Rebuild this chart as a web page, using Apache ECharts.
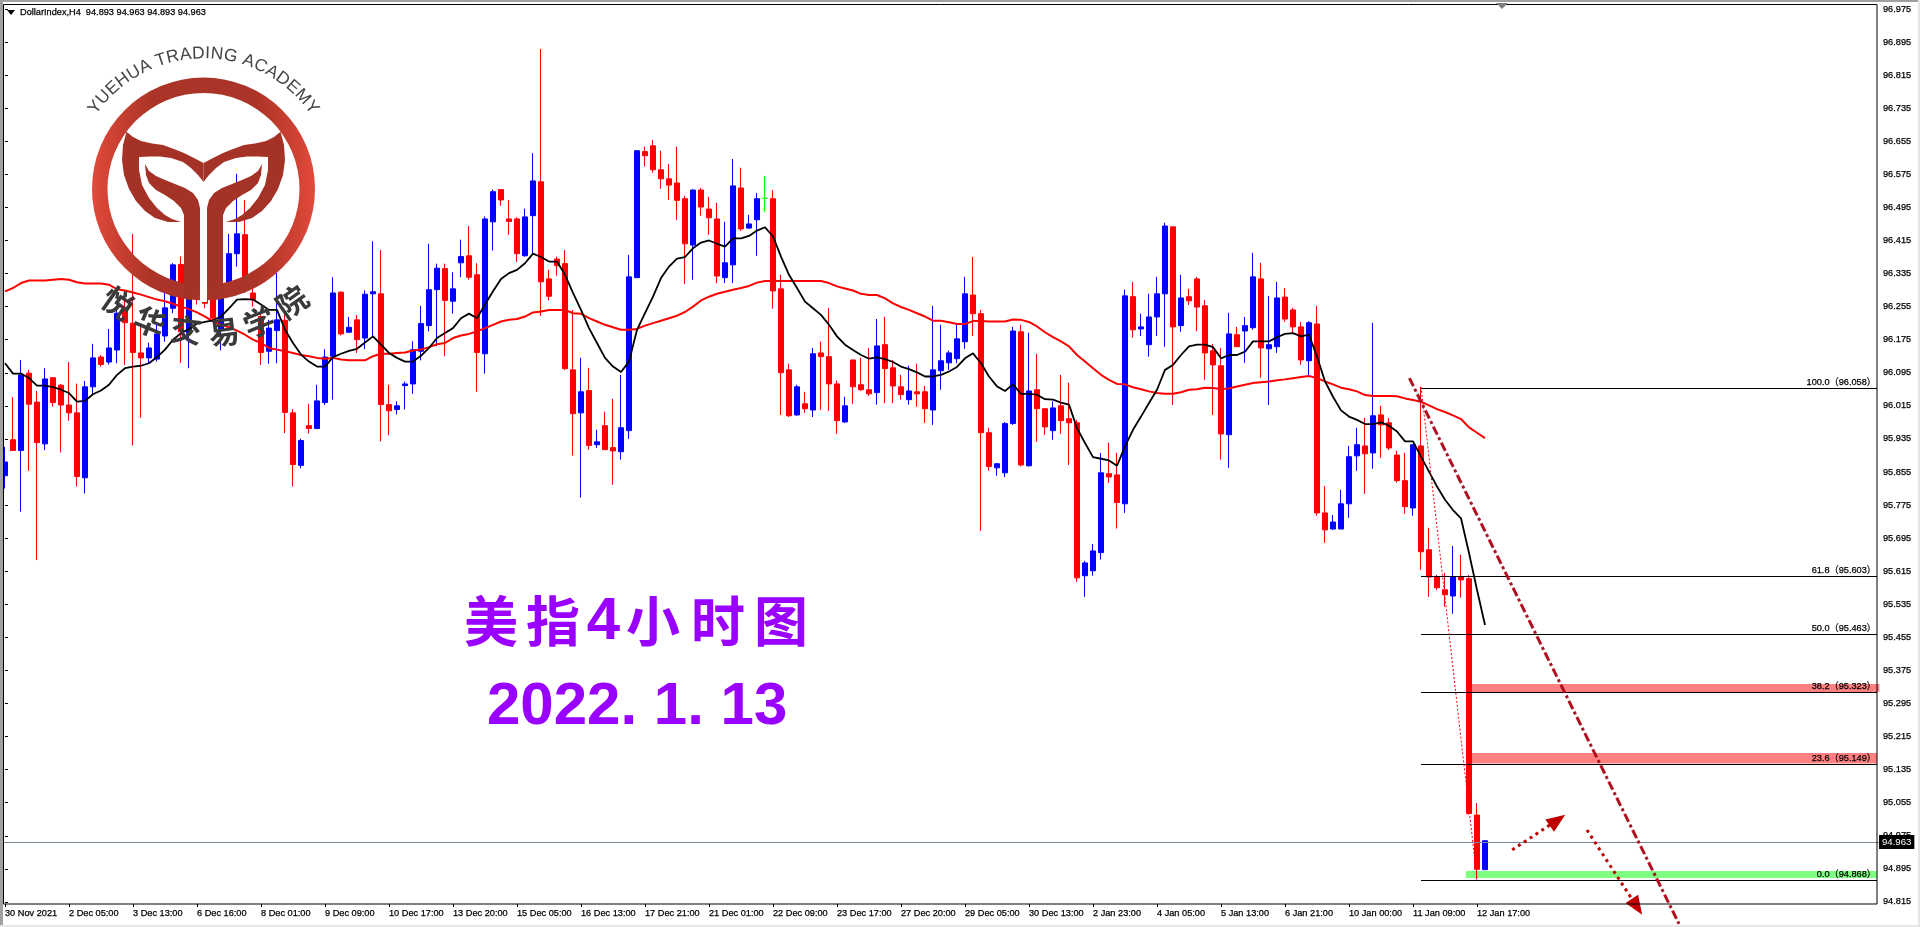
<!DOCTYPE html>
<html><head><meta charset="utf-8"><style>html,body{margin:0;padding:0;background:#fff}#c{width:1920px;height:927px}</style>
<script src="https://cdn.jsdelivr.net/npm/echarts@6/dist/echarts.min.js"></script></head><body><div id="c"></div>
<script>
const tickLabels=['30 Nov 2021','2 Dec 05:00','3 Dec 13:00','6 Dec 16:00','8 Dec 01:00','9 Dec 09:00','10 Dec 17:00','13 Dec 20:00','15 Dec 05:00','16 Dec 13:00','17 Dec 21:00','21 Dec 01:00','22 Dec 09:00','23 Dec 17:00','27 Dec 20:00','29 Dec 05:00','30 Dec 13:00','2 Jan 23:00','4 Jan 05:00','5 Jan 13:00','6 Jan 21:00','10 Jan 00:00','11 Jan 09:00','12 Jan 17:00'];
const priceTicks=[94.815,94.895,94.975,95.055,95.135,95.215,95.295,95.375,95.455,95.535,95.615,95.695,95.775,95.855,95.935,96.015,96.095,96.175,96.255,96.335,96.415,96.495,96.575,96.655,96.735,96.815,96.895,96.975];
const opens=[95.846,95.933,95.907,96.094,96.024,95.923,96.083,96.065,96.017,95.998,
95.841,96.061,96.133,96.121,96.150,96.247,96.215,96.143,96.131,96.128,
96.184,96.251,96.357,96.190,96.319,96.315,96.303,96.199,96.312,96.383,
96.429,96.288,96.231,96.147,96.197,96.222,95.998,95.871,95.967,95.960,
96.023,96.135,96.290,96.193,96.223,96.179,96.286,96.286,96.018,96.006,
96.064,96.068,96.147,96.209,96.296,96.347,96.268,96.361,96.378,96.332,
96.141,96.460,96.538,96.467,96.467,96.378,96.475,96.557,96.322,96.370,
96.359,96.102,95.998,96.052,95.921,95.967,95.914,95.904,95.955,96.325,
96.630,96.644,96.586,96.564,96.554,96.516,96.404,96.537,96.491,96.467,
96.325,96.356,96.542,96.445,96.465,96.517,96.516,96.298,96.102,95.993,
96.020,96.005,96.143,96.134,96.068,95.976,96.126,96.066,96.054,96.047,
96.163,96.107,96.061,96.030,96.049,96.049,96.005,96.100,96.119,96.129,
96.170,96.283,96.238,95.950,95.865,95.853,95.972,96.194,95.870,96.054,
96.008,95.955,96.015,95.984,95.974,95.604,95.616,95.660,95.851,95.848,
95.778,96.279,96.201,96.163,96.230,96.286,96.448,96.209,96.279,96.322,
96.257,96.148,96.112,95.945,96.187,96.196,96.204,96.322,96.153,96.158,
96.278,96.247,96.206,96.124,96.213,95.756,95.717,95.717,95.778,95.894,
95.918,95.901,95.993,95.974,95.896,95.834,95.768,95.918,95.667,95.601,
95.570,95.555,95.601,95.597,95.025,94.893];
const closes=[95.879,95.907,96.090,96.019,95.926,96.080,96.023,96.017,95.998,95.844,
96.061,96.131,96.115,96.155,96.239,96.216,96.144,96.131,96.155,96.189,
96.252,96.356,96.194,96.319,96.287,96.263,96.227,96.296,96.383,96.431,
96.324,96.272,96.144,96.203,96.223,95.999,95.873,95.931,95.960,96.027,
96.133,96.288,96.189,96.205,96.175,96.285,96.291,96.018,96.003,96.015,
96.068,96.151,96.214,96.296,96.348,96.270,96.298,96.376,96.326,96.144,
96.467,96.533,96.513,96.461,96.383,96.472,96.559,96.315,96.280,96.354,
96.105,95.996,96.049,95.919,95.928,95.909,95.906,95.962,96.327,96.632,
96.620,96.586,96.564,96.549,96.512,96.407,96.537,96.496,96.470,96.329,
96.361,96.547,96.443,96.455,96.516,96.517,96.293,96.095,95.991,96.061,
96.008,96.141,96.134,96.068,95.979,96.015,96.061,96.054,96.044,96.160,
96.105,96.063,96.042,96.051,96.044,96.008,96.102,96.124,96.143,96.177,
96.286,96.238,95.950,95.868,95.875,95.972,96.196,95.872,96.051,96.008,
95.964,96.010,95.979,95.974,95.599,95.635,95.664,95.853,95.843,95.781,
96.281,96.199,96.206,96.230,96.286,96.450,96.206,96.276,96.269,96.254,
96.143,96.114,95.947,96.189,96.158,96.209,96.327,96.155,96.163,96.276,
96.225,96.206,96.126,96.216,95.756,95.715,95.734,95.778,95.892,95.921,
95.899,95.991,95.969,95.913,95.834,95.771,95.921,95.662,95.601,95.575,
95.558,95.601,95.594,95.029,94.894,94.963];
const lows=[95.815,95.906,95.759,95.858,95.642,95.908,96.013,95.902,95.979,95.820,
95.803,96.041,96.110,96.115,96.118,96.114,95.919,95.986,96.119,96.122,
96.170,96.239,96.119,96.106,96.260,96.251,96.223,96.149,96.288,96.352,
96.288,96.255,96.114,96.117,96.118,95.949,95.820,95.864,95.948,95.960,
96.017,96.030,96.185,96.193,96.143,96.152,96.183,95.929,95.944,95.994,
96.006,96.044,96.125,96.195,96.159,96.135,96.238,96.326,96.320,96.049,
96.093,96.391,96.499,96.429,96.363,96.376,96.384,96.233,96.270,96.330,
96.101,95.895,95.793,95.909,95.913,95.909,95.824,95.885,95.935,96.325,
96.594,96.579,96.540,96.513,96.465,96.310,96.320,96.475,96.429,96.312,
96.312,96.312,96.438,96.443,96.378,96.485,96.250,95.993,95.988,95.991,
95.998,95.988,96.005,96.003,95.947,95.974,96.020,96.051,96.039,96.018,
96.022,96.022,96.030,96.018,96.013,95.974,95.969,96.054,96.102,96.118,
96.153,96.184,95.713,95.858,95.846,95.843,95.969,95.868,95.868,95.928,
95.945,95.933,95.947,95.872,95.589,95.553,95.604,95.643,95.829,95.718,
95.756,96.180,96.184,96.134,96.184,96.158,96.017,96.194,96.259,96.196,
96.078,95.993,95.885,95.865,96.158,96.119,96.199,96.083,96.017,96.143,
96.218,96.191,96.114,96.085,95.749,95.684,95.715,95.717,95.744,95.858,
95.802,95.863,95.889,95.908,95.829,95.754,95.749,95.618,95.553,95.570,
95.529,95.512,95.551,95.026,94.870,94.893];
const highs=[95.916,96.036,96.126,96.102,96.051,96.106,96.084,96.068,96.121,96.069,
96.075,96.165,96.138,96.201,96.255,96.295,96.431,96.207,96.168,96.215,
96.295,96.360,96.376,96.340,96.340,96.327,96.311,96.312,96.431,96.576,
96.513,96.304,96.247,96.223,96.336,96.239,96.007,95.936,96.020,96.066,
96.152,96.326,96.292,96.230,96.235,96.294,96.413,96.392,96.066,96.026,
96.074,96.171,96.257,96.407,96.359,96.359,96.338,96.417,96.450,96.360,
96.473,96.538,96.538,96.513,96.471,96.492,96.626,96.878,96.344,96.376,
96.392,96.247,96.131,96.107,95.957,96.001,96.032,96.090,96.380,96.634,
96.642,96.658,96.632,96.600,96.642,96.523,96.539,96.542,96.520,96.506,
96.460,96.612,96.591,96.477,96.530,96.571,96.537,96.332,96.117,96.066,
96.049,96.155,96.170,96.252,96.076,96.037,96.126,96.131,96.155,96.225,
96.230,96.126,96.090,96.112,96.117,96.063,96.257,96.211,96.149,96.213,
96.327,96.375,96.247,95.962,95.876,95.976,96.206,96.211,96.192,96.141,
96.009,96.026,96.090,96.071,95.981,95.640,95.681,95.901,95.926,95.901,
96.296,96.315,96.238,96.286,96.327,96.458,96.448,96.332,96.298,96.327,
96.271,96.165,96.155,96.240,96.206,96.230,96.385,96.361,96.281,96.315,
96.300,96.252,96.218,96.220,96.257,95.821,95.751,95.812,95.918,95.962,
95.986,96.216,96.015,95.986,95.906,95.901,95.921,96.061,95.720,95.606,
95.611,95.676,95.655,95.606,95.054,94.963];
const blackMA=[96.118,96.093,96.093,96.082,96.064,96.064,96.060,96.054,96.046,96.025,
96.027,96.043,96.052,96.066,96.090,96.106,96.110,96.112,96.118,96.133,
96.151,96.175,96.191,96.201,96.214,96.218,96.222,96.231,96.251,96.272,
96.273,96.272,96.260,96.247,96.247,96.199,96.167,96.139,96.122,96.110,
96.110,96.133,96.141,96.148,96.153,96.168,96.183,96.163,96.143,96.131,
96.122,96.122,96.136,96.155,96.179,96.191,96.203,96.227,96.238,96.227,
96.260,96.292,96.322,96.336,96.344,96.360,96.383,96.375,96.364,96.364,
96.332,96.288,96.247,96.203,96.167,96.131,96.110,96.097,96.122,96.199,
96.239,96.279,96.324,96.352,96.371,96.375,96.396,96.410,96.415,96.407,
96.400,96.420,96.420,96.426,96.439,96.447,96.425,96.376,96.332,96.300,
96.267,96.251,96.235,96.211,96.183,96.163,96.150,96.138,96.129,96.132,
96.128,96.121,96.110,96.104,96.096,96.086,96.086,96.090,96.098,96.109,
96.130,96.142,96.118,96.086,96.062,96.051,96.067,96.044,96.044,96.042,
96.031,96.030,96.023,96.018,95.961,95.925,95.891,95.887,95.883,95.870,
95.917,95.957,95.989,96.022,96.054,96.102,96.114,96.138,96.159,96.163,
96.163,96.157,96.130,96.138,96.138,96.146,96.171,96.171,96.171,96.181,
96.189,96.191,96.183,96.187,96.134,96.074,96.037,96.004,95.989,95.981,
95.971,95.971,95.975,95.967,95.953,95.929,95.929,95.892,95.856,95.820,
95.788,95.763,95.743,95.659,95.570,95.485];
const redMA=[96.292,96.300,96.312,96.318,96.318,96.318,96.320,96.322,96.320,96.314,
96.311,96.311,96.311,96.308,96.297,96.294,96.289,96.284,96.278,96.272,
96.268,96.262,96.255,96.249,96.241,96.231,96.219,96.211,96.205,96.197,
96.187,96.175,96.167,96.155,96.151,96.147,96.143,96.138,96.135,96.131,
96.129,96.131,96.127,96.125,96.125,96.125,96.135,96.141,96.141,96.143,
96.144,96.149,96.151,96.157,96.164,96.167,96.179,96.185,96.189,96.195,
96.203,96.211,96.219,96.223,96.225,96.231,96.241,96.243,96.247,96.247,
96.247,96.239,96.238,96.227,96.219,96.211,96.205,96.199,96.199,96.201,
96.209,96.215,96.221,96.227,96.233,96.242,96.255,96.270,96.279,96.286,
96.291,96.296,96.300,96.305,96.313,96.317,96.317,96.317,96.317,96.317,
96.317,96.317,96.317,96.312,96.304,96.299,96.294,96.286,96.283,96.283,
96.275,96.263,96.254,96.247,96.239,96.231,96.221,96.221,96.217,96.213,
96.213,96.220,96.220,96.219,96.219,96.219,96.224,96.223,96.218,96.207,
96.193,96.181,96.171,96.159,96.138,96.122,96.106,96.090,96.078,96.068,
96.067,96.060,96.055,96.050,96.046,96.044,96.044,96.048,96.054,96.055,
96.059,96.058,96.056,96.057,96.062,96.066,96.070,96.072,96.074,96.077,
96.079,96.082,96.085,96.087,96.082,96.074,96.067,96.059,96.055,96.050,
96.041,96.039,96.039,96.039,96.038,96.033,96.029,96.025,96.016,96.007,
96.000,95.992,95.983,95.963,95.950,95.937];
const fibPercents=['100.0','61.8','50.0','38.2','23.6','0.0'];
const fibPrices=[96.058,95.603,95.463,95.323,95.149,94.868];
const lastPrice=94.963;
const zones=[[95.342,95.323,183,234.3,'#ff8080'],[95.175,95.150,183,234,'#ff8080'],[94.890,94.873,182.6,234,'#80ff80']];
const trendLine=[[175.55,96.082],[209.25,94.762]];
const dottedLine=[[177,96.061],[184,94.870]];
const arrowUp=[[188.4,94.941],[194.06,95.013]];
const arrowDown=[[197.75,94.989],[204,94.803]];
const titleText='DollarIndex,H4  94.893 94.963 94.893 94.963';

const barCount=235;
const categories=Array.from({length:barCount},(_,i)=>(i%8===0&&tickLabels[i/8])||'');
const candleData=opens.map((o,i)=>[o,closes[i],lows[i],highs[i]]);
const SANS='"Liberation Sans",Arial,sans-serif', CJK='"Noto Sans CJK SC",sans-serif';
const logoCx=203.5,logoCy=189;
const wing=[[126.5,131.7],[133,137],[141,141],[152,143.5],[163,145],[174,149],[184,153],[194,158],[203.5,163],[203.5,182],[198,175],[191,168],[183,162],[171,158],[160,156.5],[150,156.5],[139,157],[139,170],[142,185],[149,198],[157,208],[165,215],[172,219],[181,222],[168,222],[155,218],[145,211],[136,201],[129,189],[124,175],[122,160],[123,145]];
const stem=[[145,164],[149,171],[156,176],[165,180],[175,184],[185,188],[193,193],[198,200],[200,208],[200,287],[198,295],[193,299],[188,300],[184,298],[184,215],[181,208],[174,201],[165,195],[156,190],[149,183],[146,175]];
const EMB='#a53226';
const half=()=>[{type:'polygon',shape:{points:wing},style:{fill:EMB}},{type:'polygon',shape:{points:stem},style:{fill:EMB}}];
const g=[];
g.push({type:'rect',z:90,shape:{x:0,y:0,width:3,height:927},style:{fill:'#a0a0a0'}});
g.push({type:'rect',z:90,shape:{x:0,y:0,width:1920,height:2},style:{fill:'#a0a0a0'}});
g.push({type:'rect',z:90,shape:{x:0,y:925,width:1920,height:2},style:{fill:'#e6e6e6'}});
g.push({type:'rect',z:90,shape:{x:1918,y:0,width:2,height:927},style:{fill:'#e6e6e6'}});
g.push({type:'rect',z:91,shape:{x:3.5,y:4.5,width:1873.5,height:899.5},style:{fill:'transparent',stroke:'#000',lineWidth:1}});
g.push({type:'polygon',z:92,shape:{points:[[7,10],[15,10],[11,15]]},style:{fill:'#000'}});
g.push({type:'polygon',z:92,shape:{points:[[1496,3],[1508,3],[1502,9]]},style:{fill:'#808080'}});
g.push({type:'text',z:92,x:20,y:12.5,style:{text:titleText,font:'9.2px '+SANS,fill:'#000',stroke:'#000',lineWidth:.25,textVerticalAlign:'middle'}});
g.push({type:'ring',z:100,shape:{cx:logoCx,cy:logoCy,r:111.5,r0:96},style:{fill:new echarts.graphic.LinearGradient(0,0,1,0,[{offset:0,color:'#e2493b'},{offset:.12,color:'#c83f31'},{offset:.28,color:'#a93427'},{offset:.72,color:'#a93427'},{offset:.88,color:'#c83f31'},{offset:1,color:'#e2493b'}])}});
g.push({type:'group',z:100,children:half().map(o=>Object.assign(o,{z:101}))});
g.push({type:'group',x:407,scaleX:-1,children:half().map(o=>Object.assign(o,{z:101}))});
g.push({type:'rect',z:102,shape:{x:200,y:182,width:7,height:120},style:{fill:'#fff'}});
// arc text
const en='YUEHUA TRADING ACADEMY',enR=127;
const enFont='17.4px "Liberation Sans"';
const ctx=document.createElement('canvas').getContext('2d');ctx.font=enFont;
let total=ctx.measureText(en).width,acc=0;
[...en].forEach(ch=>{const w=ctx.measureText(ch).width;const th=(acc+w/2-total/2)/enR;acc+=w;
 g.push({type:'text',z:103,x:logoCx+enR*Math.sin(th),y:logoCy-enR*Math.cos(th),rotation:-th,style:{text:ch,font:enFont,fill:'#444',textAlign:'center',textVerticalAlign:'bottom'}});});
const cnChars=[['悦',118,303,35],['华',150,322,22],['交',186,330,7],['易',224,332,-7],['学',259,322,-22],['院',292,302,-35]];
cnChars.forEach(([c,x,y,a])=>g.push({type:'text',z:103,x,y,rotation:-a*Math.PI/180,style:{text:c,font:'bold 31px '+CJK,fill:'#3a3a3a',textAlign:'center',textVerticalAlign:'middle'}}));
// headline
[['美',491],['指',553],['小',653],['时',718],['图',781]].forEach(([c,x])=>g.push({type:'text',z:80,x,y:621,style:{text:c,font:'bold 54px '+CJK,fill:'#9900ff',textAlign:'center',textVerticalAlign:'middle'}}));
g.push({type:'text',z:80,x:603.5,y:622,style:{text:'4',font:'bold 60px '+SANS,fill:'#9900ff',textAlign:'center',textVerticalAlign:'middle'}});
g.push({type:'text',z:80,x:487,y:707.5,style:{text:'2022. 1. 13',font:'bold 60px '+SANS,fill:'#9900ff',textAlign:'left',textVerticalAlign:'middle'}});

const chart=echarts.init(document.getElementById('c'),null,{renderer:'canvas'});
const ann=(extra)=>Object.assign({type:'line',xAxisIndex:1,yAxisIndex:0,animation:false,silent:true,clip:false,showSymbol:false,symbol:'none'},extra);
const dark={textBorderColor:'#000',textBorderWidth:.25};
chart.setOption({
 animation:false,backgroundColor:'#fff',
 grid:{left:1,top:4,width:1880,height:900,containLabel:false},
 xAxis:[
  {type:'category',data:categories,boundaryGap:true,axisLine:{show:false},
   axisTick:{show:true,alignWithLabel:true,length:3,lineStyle:{color:'#000'},interval:(i)=>i%8===0&&i<=184},
   axisLabel:Object.assign({interval:7,align:'left',margin:5,fontFamily:SANS,fontSize:9.2,color:'#000',hideOverlap:false},dark),splitLine:{show:false}},
  {type:'value',min:-0.5,max:234.5,show:false}
 ],
 yAxis:[{type:'value',position:'right',offset:-4,min:94.81,max:96.987,scale:true,splitLine:{show:false},axisLine:{show:false},
   axisTick:{show:true,length:3,lineStyle:{color:'#000'},customValues:priceTicks},
   axisLabel:Object.assign({margin:6,fontFamily:SANS,fontSize:9.2,color:'#000',customValues:priceTicks,formatter:v=>v.toFixed(3)},dark)}],
 graphic:{elements:g},
 series:[
  ann({name:'zones',data:[],z:1,markArea:{silent:true,z:1,itemStyle:{opacity:1},data:zones.map(z=>[{xAxis:z[2],yAxis:z[0],itemStyle:{color:z[4],opacity:1}},{xAxis:z[3],yAxis:z[1]}])}}),
  {type:'candlestick',name:'DollarIndex',data:candleData,barWidth:5,z:3,animation:false,silent:true,clip:false,
   itemStyle:{color:'#0000ff',color0:'#ff0000',borderColor:'#0000ff',borderColor0:'#ff0000',borderColorDoji:'#00ff00',borderWidth:1}},
  {type:'line',name:'MA fast',data:blackMA,z:5,symbol:'none',animation:false,silent:true,lineStyle:{color:'#000',width:1.8}},
  {type:'line',name:'MA slow',data:redMA,z:4,symbol:'none',animation:false,silent:true,lineStyle:{color:'#ff0000',width:2}},
  ann({name:'fib',data:[],z:6,markLine:{silent:true,symbol:'none',animation:false,lineStyle:{color:'#000',width:1,type:'solid'},
    label:Object.assign({show:true,position:'insideEndTop',distance:1,fontFamily:SANS+',"Noto Sans CJK SC"',fontSize:9.2,color:'#000'},dark),
    data:fibPrices.map((p,i)=>[{coord:[177,p],label:{formatter:fibPercents[i]+'（'+p.toFixed(3)+'）'}},{coord:[234,p]}])}}),
  ann({name:'price',data:[],z:2,markLine:{silent:true,symbol:'none',animation:false,lineStyle:{color:'#778899',width:1,type:'solid'},
    label:{show:true,position:'end',distance:-2,fontFamily:SANS,fontSize:9.6,color:'#fff',backgroundColor:'#000',padding:[2,3,2,3],formatter:()=>lastPrice.toFixed(3)},
    data:[{yAxis:lastPrice}]}}),
  ann({name:'trend',data:trendLine,z:7,lineStyle:{color:'#b01020',width:3,type:[9,3,3,3]}}),
  ann({name:'impulse',data:dottedLine,z:6,lineStyle:{color:'#ff0000',width:1,type:[2,2]}}),
  ann({name:'arrowUp',data:[arrowUp[0],{value:arrowUp[1],symbol:'triangle',symbolSize:[15,19],symbolRotate:-55,itemStyle:{color:'#c00000'}}],z:7,showSymbol:true,symbol:'none',lineStyle:{color:'#c00000',width:3,type:[3,4]}}),
  ann({name:'arrowDown',data:[arrowDown[0],{value:arrowDown[1],symbol:'triangle',symbolSize:[15,19],symbolRotate:-147,itemStyle:{color:'#c00000'}}],z:7,showSymbol:true,symbol:'none',lineStyle:{color:'#c00000',width:3,type:[3,4]}})
 ]
});
</script></body></html>
